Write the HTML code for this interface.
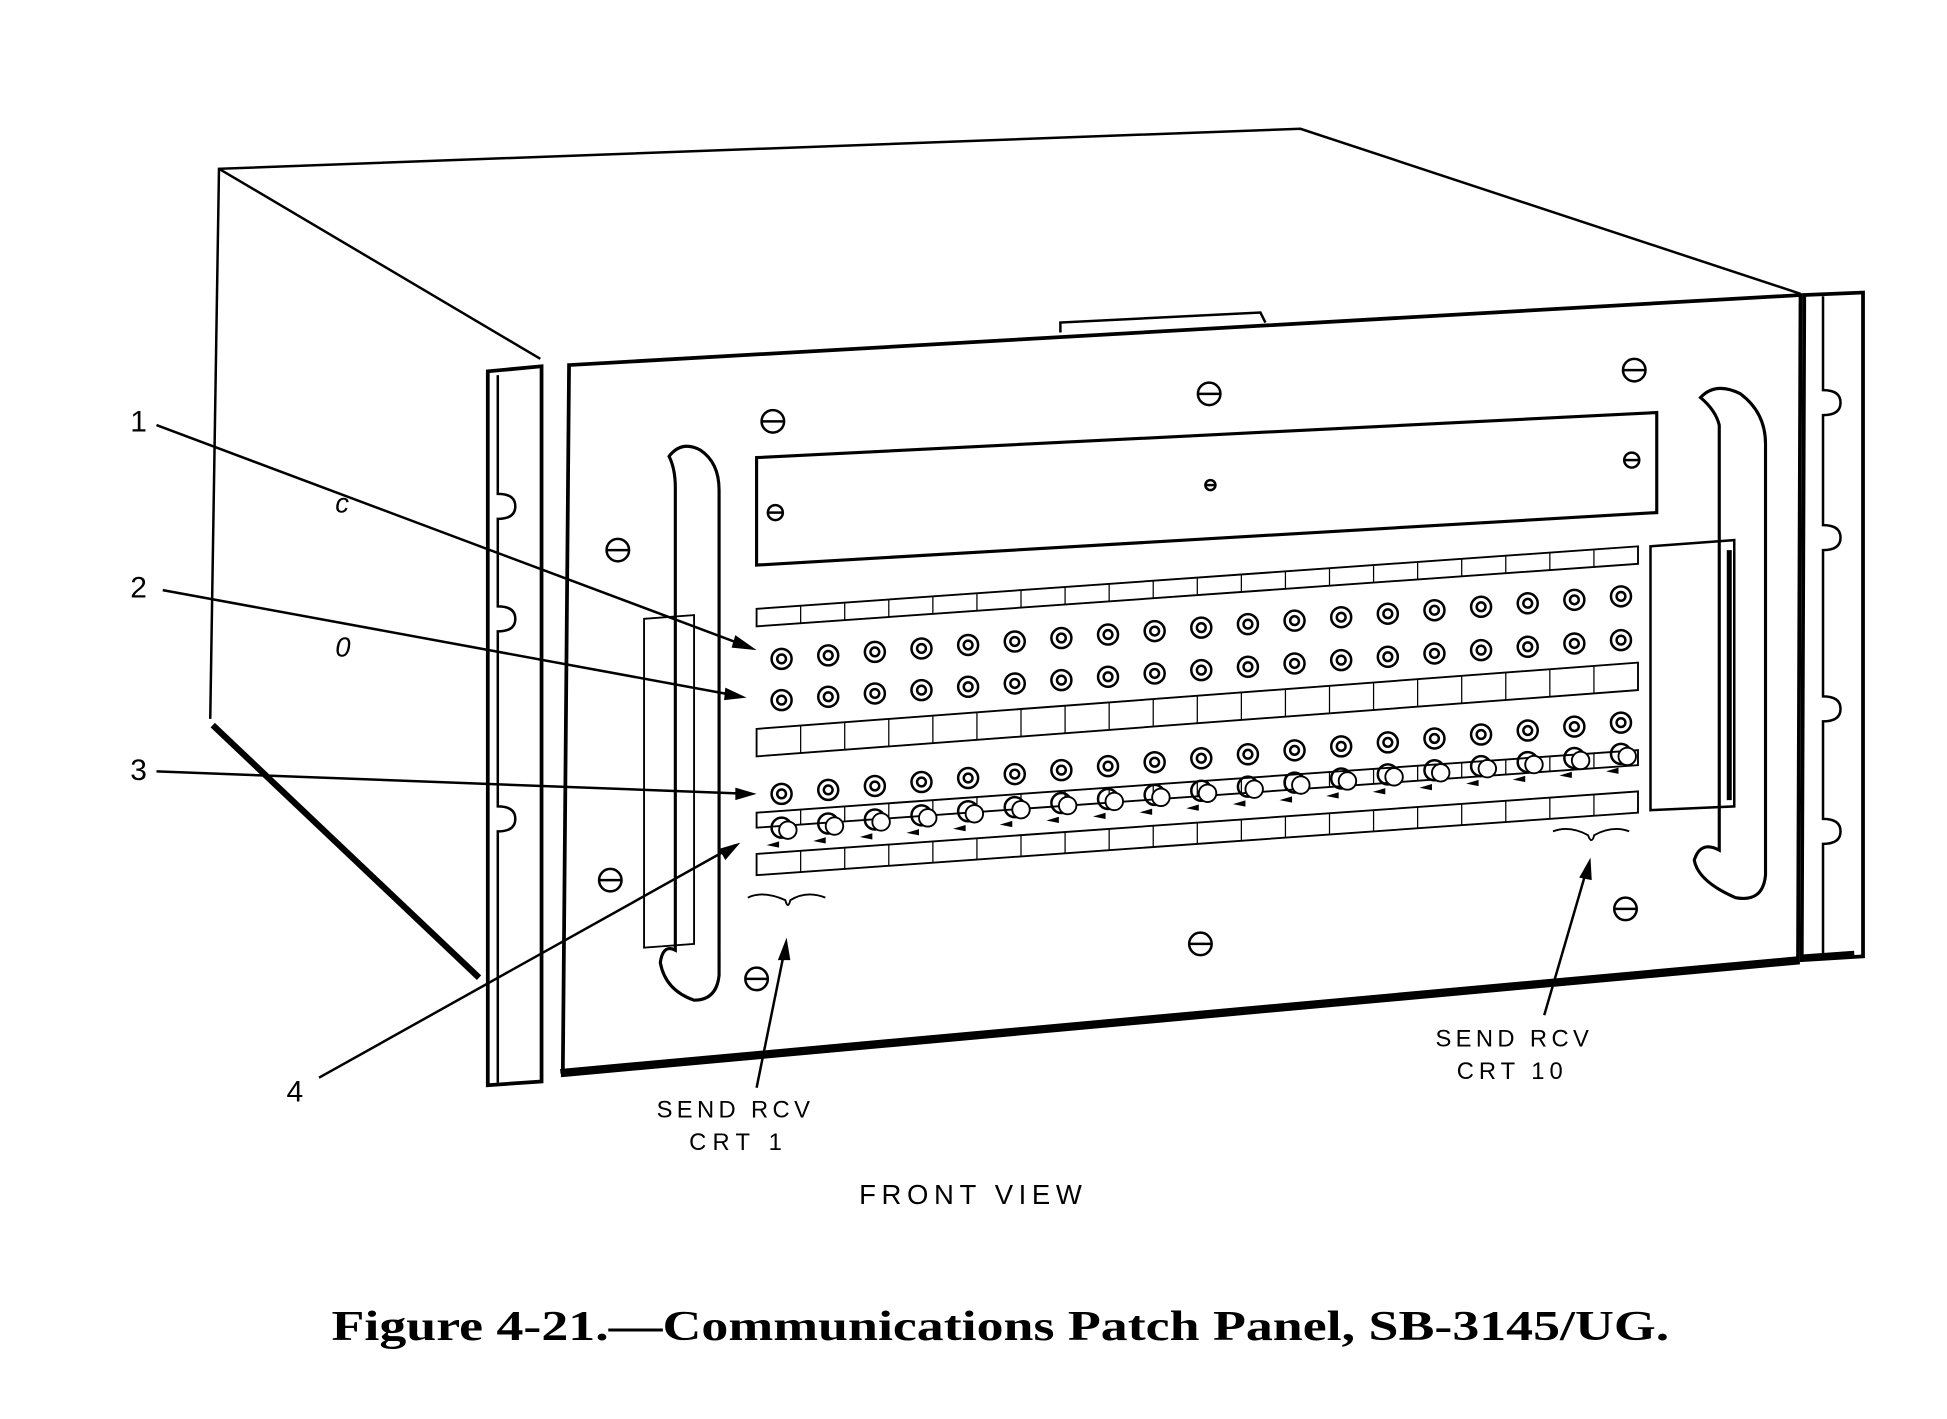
<!DOCTYPE html>
<html><head><style>
html,body{margin:0;padding:0;background:#fff;}
svg{display:block;}
</style></head><body>
<svg id="s" width="1947" height="1419" viewBox="0 0 1557 1135" xmlns="http://www.w3.org/2000/svg" fill="none" stroke="#000" stroke-width="2">
<polyline points="168,575 175,135 1040,103 1440,235"/>
<line x1="175" y1="135" x2="432" y2="287"/>
<line x1="170" y1="580" x2="383" y2="782" stroke-width="5"/>
<path d="M390,297 L433,293 L433,865 L390,868 Z" stroke-width="3"/>
<path d="M398,300 L398,395 Q412,395 412,405 Q412,415 398,415 L398,485 Q412,485 412,495 Q412,505 398,505 L398,645 Q412,645 412,655 Q412,665 398,665 L398,866" stroke-width="2"/>
<path d="M455,292 L1440,236 L1438,770 L450,860 Z" stroke-width="3"/>
<line x1="448" y1="857" x2="1437" y2="767" stroke-width="4"/>
<path d="M1443,236 L1490,234 L1490,765 L1441,768 Z" stroke-width="3"/>
<path d="M1458,237 L1458,312 Q1472,312 1472,322 Q1472,332 1458,332 L1458,420 Q1472,420 1472,430 Q1472,440 1458,440 L1458,557 Q1472,557 1472,567 Q1472,577 1458,577 L1458,655 Q1472,655 1472,665 Q1472,675 1458,675 L1458,766" stroke-width="2"/>
<line x1="1441" y1="766" x2="1483" y2="763" stroke-width="5"/>
<path d="M848,266 L848,258 L1008,250 L1012,258"/>
<path d="M535,365 Q545,352 560,360 Q575,370 575,392 L575,780 Q573,800 555,800 Q532,792 528,770 Q530,755 540,760 L540,390 Q540,375 535,365 Z" stroke-width="2.5"/>
<path d="M1360,318 Q1372,305 1392,315 Q1412,330 1412,355 L1412,700 Q1410,722 1388,718 Q1358,705 1355,688 Q1360,672 1375,680 L1375,340 Q1372,328 1360,318 Z" stroke-width="2.5"/>
<path d="M605,366 L1325,330 L1325,410 L605,452 Z" stroke-width="2.5"/>
<path d="M1320,437 L1387,432 L1387,645 L1320,648 Z" stroke-width="2"/>
<line x1="1383" y1="440" x2="1383" y2="640" stroke-width="4"/>
<path d="M515,495 L555,492 L555,755 L515,758 Z" stroke-width="1.5"/>
<g id="dyn"></g>
<g stroke-width="2">
<line x1="125" y1="340" x2="600" y2="518"/>
<line x1="130" y1="472" x2="592" y2="557"/>
<line x1="125" y1="617" x2="600" y2="635"/>
<line x1="255" y1="862" x2="588" y2="676"/>
<line x1="605" y1="870" x2="628" y2="757"/>
<line x1="1235" y1="812" x2="1270" y2="692"/>
</g>
<g fill="#000" stroke="none">
<polygon points="605,520 588,508 585,518"/>
<polygon points="597,558 580,550 579,560"/>
<polygon points="605,635 588,630 588,640"/>
<polygon points="592,674 575,679 580,688"/>
<polygon points="629,750 622,768 632,768"/>
<polygon points="1272,686 1263,702 1273,704"/>
</g>
<path d="M598,718 Q610,712 628,720 Q630,728 632,720 Q645,712 660,718" stroke-width="1.5"/>
<path d="M1242,665 Q1255,660 1270,668 Q1273,676 1275,668 Q1290,660 1303,665" stroke-width="1.5"/>
<g fill="#000" stroke="none" font-family="Liberation Sans, sans-serif">
<text x="104" y="345" font-size="24">1</text>
<text x="104" y="478" font-size="24">2</text>
<text x="104" y="624" font-size="24">3</text>
<text x="229" y="881" font-size="24">4</text>
<text x="268" y="410" font-size="22" font-style="italic">c</text>
<text x="268" y="525" font-size="22" font-style="italic">0</text>
<text x="525" y="894" font-size="19" letter-spacing="3.5">SEND RCV</text>
<text x="551" y="920" font-size="19" letter-spacing="5">CRT 1</text>
<text x="1148" y="837" font-size="19" letter-spacing="3.5">SEND RCV</text>
<text x="1165" y="863" font-size="19" letter-spacing="4">CRT 10</text>
<text x="687" y="963" font-size="22" letter-spacing="4.5">FRONT VIEW</text>
<text x="265" y="1072" font-size="34" font-weight="bold" font-family="Liberation Serif, serif" textLength="1070" lengthAdjust="spacingAndGlyphs">Figure 4-21.—Communications Patch Panel, SB-3145/UG.</text>
</g>
</svg>
<script>
var g=document.getElementById('dyn'),h='';
function yl(x,yL,yR){return yL+(yR-yL)*(x-605)/(1310-605);}
function strip(yL,yR,hgt,n){
 h+='<path d="M605,'+yL+' L1310,'+yR+' L1310,'+(yR+hgt)+' L605,'+(yL+hgt)+' Z" stroke-width="1.5"/>';
 for(var i=1;i<n;i++){var x=605+i*(705/n);h+='<line x1="'+x+'" y1="'+yl(x,yL,yR)+'" x2="'+x+'" y2="'+(yl(x,yL,yR)+hgt)+'" stroke-width="1"/>';}
}
strip(487,437,14,20);
strip(583,530,22,20);
strip(650,600,12,20);
strip(683,633,17,20);
function screw(x,y,r){h+='<circle cx="'+x+'" cy="'+y+'" r="'+r+'" stroke-width="2"/><line x1="'+(x-r)+'" y1="'+y+'" x2="'+(x+r)+'" y2="'+y+'" stroke-width="2"/>';}
[[618,337,9],[967,315,9],[1307,296,9],[494,440,9],[488,704,9],[605,783,9],[960,755,9],[1300,727,9],[620,410,6],[1305,368,6],[968,388,4]].forEach(function(s){screw(s[0],s[1],s[2]);});
for(var i=0;i<19;i++){
 var x=625+i*37.3;
 var rows=[[527,477],[560,512],[635,578]];
 rows.forEach(function(r){var y=r[0]+(r[1]-r[0])*i/18;
  h+='<circle cx="'+x+'" cy="'+y+'" r="8" stroke-width="2"/><circle cx="'+x+'" cy="'+y+'" r="3.5" stroke-width="2"/>';});
 var y4=662+(603-662)*i/18;
 h+='<circle cx="'+x+'" cy="'+y4+'" r="8" stroke-width="2"/><circle cx="'+(x+5)+'" cy="'+(y4+2)+'" r="7" fill="#fff" stroke-width="1.5"/>';
 h+='<path d="M'+(x-12)+','+(y4+14)+' l10,-3 l0,5 z" fill="#000" stroke="none"/>';
}
g.innerHTML=h;
</script>
</body></html>
